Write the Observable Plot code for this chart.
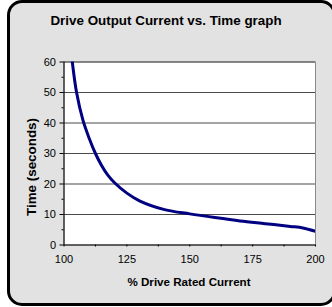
<!DOCTYPE html>
<html>
<head>
<meta charset="utf-8">
<script src="https://cdn.jsdelivr.net/npm/d3@7"></script>
<script src="https://cdn.jsdelivr.net/npm/@observablehq/plot@0.6"></script>
<style>
  html, body { margin: 0; padding: 0; background: #ffffff; }
  body { width: 332px; height: 307px; position: relative; overflow: hidden; font-family: Arial, "Liberation Sans", sans-serif; }
  #frame { position: absolute; left: 7px; top: 0px; width: 329px; height: 306px; box-sizing: border-box;
           border: 3px solid #000; border-radius: 15px; background: #e2e2e2; }
  #title { position: absolute; left: 0; width: 332px; top: 13px; text-align: center; font-weight: bold; font-size: 13.4px; color: #000; }
  #xlabel { position: absolute; left: 63px; width: 252px; top: 275px; text-align: center; font-weight: bold; font-size: 11.6px; color: #000; }
  #ylabel { position: absolute; left: 31px; top: 167px; transform: translate(-50%, -50%) rotate(-90deg); white-space: nowrap; font-weight: bold; font-size: 13.4px; color: #000; }
  #chart { position: absolute; left: 0; top: 0; }
</style>
</head>
<body>
<div id="frame"></div>
<div id="chart"></div>
<div id="title">Drive Output Current vs. Time graph</div>
<div id="ylabel">Time (seconds)</div>
<div id="xlabel">% Drive Rated Current</div>
<script>
// Data
const currentPct = [103.3, 105, 107.5, 110, 112.5, 115, 117.5, 120, 125, 130, 140, 150, 160, 170, 180, 190, 195, 200];
const timeSec    = [60, 50, 41, 35, 30, 26, 22.8, 20.5, 17, 14.5, 11.6, 10.2, 9.0, 7.9, 7.0, 6.1, 5.6, 4.5];

const xTicks = [100, 125, 150, 175, 200];
const xMinorTicks = [112.5, 137.5, 162.5, 187.5];
const yTicks = [0, 10, 20, 30, 40, 50, 60];
const yMinorTicks = [5, 15, 25, 35, 45, 55];

const data = currentPct.map((x, i) => ({x, y: timeSec[i]}));

const chart = Plot.plot({
  width: 332,
  height: 307,
  marginLeft: 63.5,
  marginRight: 17,
  marginTop: 61.5,
  marginBottom: 62.5,
  style: { background: "transparent", fontFamily: "Arial, 'Liberation Sans', sans-serif", fontSize: "11px", color: "#000" },
  x: { domain: [100, 200] },
  y: { domain: [0, 60] },
  marks: [
    Plot.frame({ fill: "#ffffff", stroke: "#8a8a8a" }),
    Plot.gridY(yTicks.filter(d => d > 0), { stroke: "#4a4a4a", strokeOpacity: 1, strokeWidth: 1 }),
    Plot.line(data, { x: "x", y: "y", stroke: "#000080", strokeWidth: 3, curve: "catmull-rom", clip: true }),
    Plot.ruleX([100], { stroke: "#000" }),
    Plot.ruleY([0], { stroke: "#000" }),
    Plot.axisY(yTicks, { tickSize: 4, tickPadding: 4, label: null, fontSize: 11 }),
    Plot.axisY(yMinorTicks, { tickSize: 2, text: null, label: null }),
    Plot.axisX(xTicks, { tickSize: 2, tickPadding: 8, label: null, fontSize: 11 }),
    Plot.axisX(xMinorTicks, { tickSize: 2, text: null, label: null })
  ]
});
document.getElementById("chart").appendChild(chart);
</script>
</body>
</html>
